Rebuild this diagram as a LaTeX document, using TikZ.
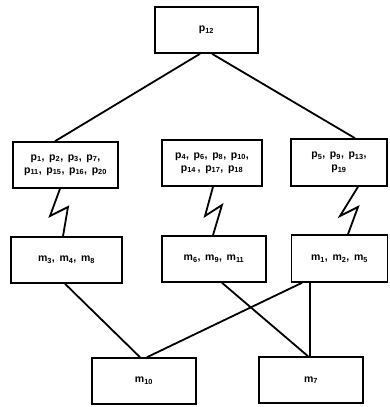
\documentclass[tikz,border=0pt]{standalone}
\usepackage{fontspec}
\setmainfont{Liberation Sans}
\usetikzlibrary{calc}
\newcommand{\ps}[1]{p\textsubscript{#1}}
\newcommand{\ms}[1]{m\textsubscript{#1}}
\begin{document}
\begin{tikzpicture}[x=1pt,y=-1pt,
  box/.style={draw, line width=1.6pt, inner sep=0pt, align=center, font=\fontsize{10.5}{13}\selectfont\bfseries},
  conn/.style={line width=1.8pt, line join=miter}]
\useasboundingbox[fill=white] (0,0) rectangle (389,407);
\node[box, minimum width=103pt, minimum height=46pt] (top) at (206.5,30) {\ps{12}};
\node[box, minimum width=105pt, minimum height=46pt] (lp) at (65.5,165) {\ps{1},\, \ps{2},\, \ps{3},\, \ps{7},\\ \ps{11},\, \ps{15},\, \ps{16},\, \ps{20}};
\node[box, minimum width=100pt, minimum height=46pt] (mp) at (212,163) {\ps{4},\, \ps{6},\, \ps{8},\, \ps{10},\\ \ps{14}\,,\, \ps{17},\, \ps{18}};
\node[box, minimum width=96pt, minimum height=47pt] (rp) at (339,162.5) {\ps{5},\, \ps{9},\, \ps{13},\\ \ps{19}};
\node[box, minimum width=111pt, minimum height=46pt] (lm) at (66.5,260) {\ms{3},\, \ms{4},\, \ms{8}};
\node[box, minimum width=104pt, minimum height=46pt] (mm) at (214,259) {\ms{6},\, \ms{9},\, \ms{11}};
\node[box, minimum width=96pt, minimum height=47pt] (rm) at (339.5,258.5) {\ms{1},\, \ms{2},\, \ms{5}};
\node[box, minimum width=104pt, minimum height=46pt] (m10) at (144,381) {\ms{10}};
\node[box, minimum width=104pt, minimum height=46pt] (m7) at (311,380) {\ms{7}};
% top connectors
\draw[conn] ($(top.south)+(-6.5,0)$) -- ($(lp.north)+(-10.5,0)$);
\draw[conn] ($(top.south)+(5.5,0)$) -- ($(rp.north)+(16,0)$);
% lightning connectors
\draw[conn] ($(lp.south)+(-5.5,0)$) -- (50,216) -- (68,207) -- ($(lm.north)+(-3.5,0)$);
\draw[conn] ($(mp.south)+(1,0)$) -- (205,216) -- (222,205) -- ($(mm.north)+(-1,0)$);
\draw[conn] ($(rp.south)+(19,0)$) -- (340,216) -- (358,207) -- ($(rm.north)+(8.5,0)$);
% bottom connectors
\draw[conn] ($(lm.south)+(-1.5,0)$) -- ($(m10.north)+(-4,0)$);
\draw[conn] ($(rm.south)+(-37.5,0)$) -- ($(m10.north)+(3,0)$);
\draw[conn] ($(mm.south)+(8,0)$) -- ($(m7.north)+(-3,0)$);
\draw[conn] ($(rm.south)+(-29.5,0)$) -- ($(m7.north)+(-1,0)$);
\end{tikzpicture}
\end{document}
